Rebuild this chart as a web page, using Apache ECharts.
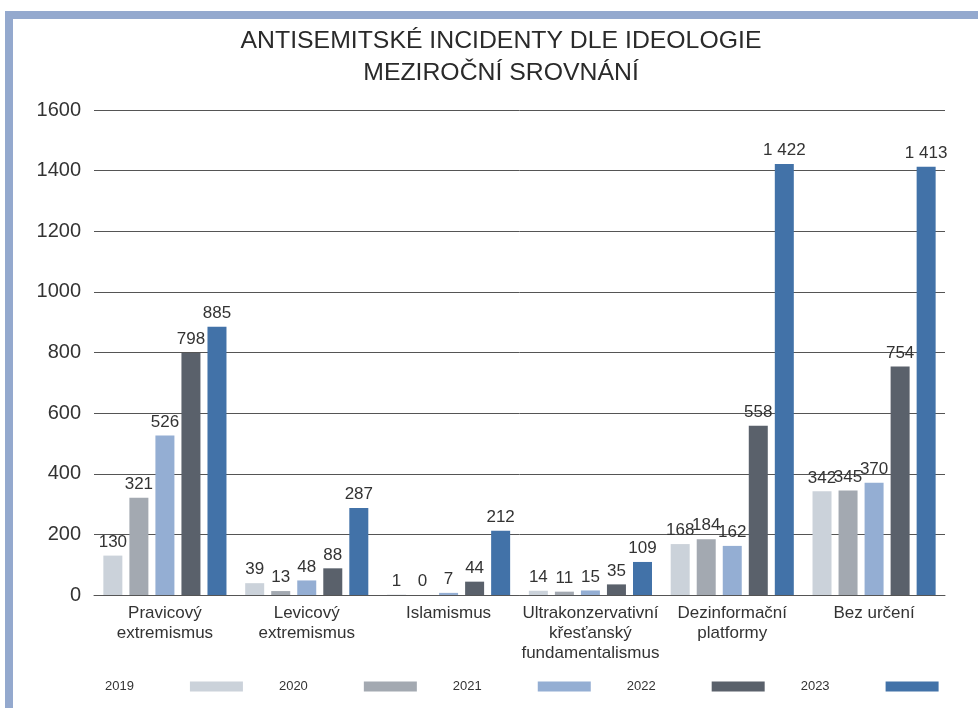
<!DOCTYPE html>
<html>
<head>
<meta charset="utf-8">
<script src="https://cdn.jsdelivr.net/npm/echarts@6/dist/echarts.min.js"></script>
<style>html,body{margin:0;padding:0;background:#fff;}#c{width:978px;height:708px;}</style>
</head>
<body>
<div id="c"></div>
<script>
const categories = ['Pravicový\nextremismus', 'Levicový\nextremismus', 'Islamismus', 'Ultrakonzervativní\nkřesťanský\nfundamentalismus', 'Dezinformační\nplatformy', 'Bez určení'];
const years = ['2019', '2020', '2021', '2022', '2023'];
const v2019 = [130, 39, 1, 14, 168, 342];
const v2020 = [321, 13, 0, 11, 184, 345];
const v2021 = [526, 48, 7, 15, 162, 370];
const v2022 = [798, 88, 44, 35, 558, 754];
const v2023 = [885, 287, 212, 109, 1422, 1413];
const yTicks = [0, 200, 400, 600, 800, 1000, 1200, 1400, 1600];

const colors = ['#CBD2DA', '#A3A9B1', '#94AED3', '#5A616B', '#4272A8'];
const seriesData = [v2019, v2020, v2021, v2022, v2023];
const FONT = '"Liberation Sans", Arial, sans-serif';

const chart = echarts.init(document.getElementById('c'), null, {renderer: 'canvas'});
chart.setOption({
  animation: false,
  backgroundColor: '#fff',
  color: colors,
  title: {
    text: 'ANTISEMITSKÉ INCIDENTY DLE IDEOLOGIE\nMEZIROČNÍ SROVNÁNÍ',
    left: 496, textAlign: 'center', top: 20,
    textStyle: {fontFamily: FONT, fontWeight: 'normal', fontSize: 24.8, color: '#2a2a2a', lineHeight: 32}
  },
  graphic: [
    {type: 'rect', shape: {x: 5, y: 11, width: 973, height: 8}, style: {fill: '#94A9CE'}, silent: true},
    {type: 'rect', shape: {x: 5, y: 11, width: 8, height: 697}, style: {fill: '#94A9CE'}, silent: true}
  ],
  legend: {
    data: years,
    left: 100, top: 675, width: 900,
    align: 'right',
    itemWidth: 53, itemHeight: 10,
    itemGap: 36,
    icon: 'rect',
    textStyle: {fontFamily: FONT, fontSize: 13, color: '#333', padding: [0, 51, 0, 0]}
  },
  grid: {left: 94, right: 33, top: 110, bottom: 113, containLabel: false},
  xAxis: {
    type: 'category',
    data: categories,
    axisTick: {show: false},
    axisLine: {show: true, lineStyle: {color: '#555', width: 1}},
    axisLabel: {fontFamily: FONT, fontSize: 17, color: '#333', lineHeight: 20, margin: 8, interval: 0}
  },
  yAxis: {
    type: 'value',
    min: 0, max: 1600, interval: 200,
    axisLine: {show: false}, axisTick: {show: false},
    splitLine: {lineStyle: {color: '#555', width: 1}},
    axisLabel: {fontFamily: FONT, fontSize: 20, color: '#333', margin: 13, formatter: v => String(v)}
  },
  series: seriesData.map((d, i) => ({
    name: years[i],
    type: 'bar',
    data: d,
    barWidth: 19,
    barGap: '37%',
    itemStyle: {color: colors[i]},
    label: {
      show: true, position: 'top', distance: 5,
      fontFamily: FONT, fontSize: 17, color: '#333',
      formatter: p => String(p.value).replace(/\B(?=(\d{3})+(?!\d))/g, ' ')
    }
  }))
});
</script>
</body>
</html>
